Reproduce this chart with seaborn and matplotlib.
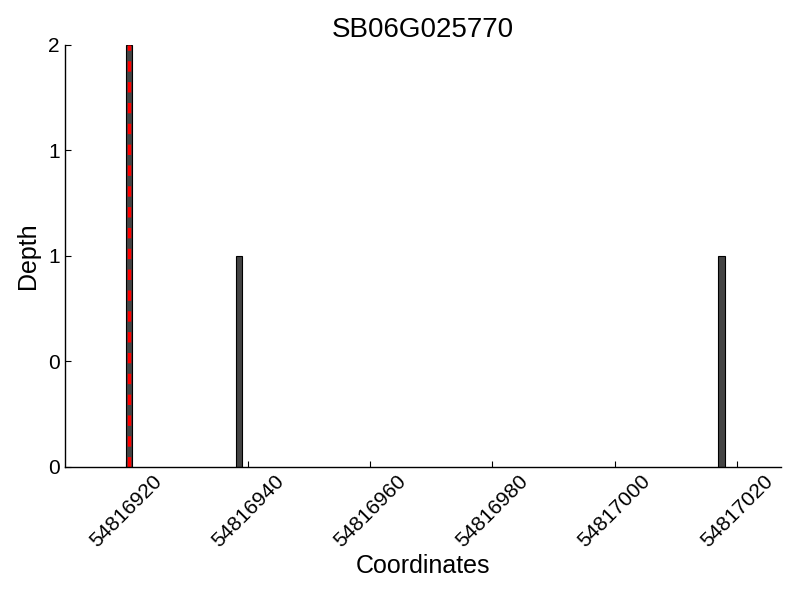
import matplotlib
matplotlib.use("Agg")
import matplotlib.pyplot as plt
import seaborn as sns
import pandas as pd
from matplotlib.ticker import FormatStrFormatter

positions = [54816920, 54816938, 54817017]
depths = [2, 1, 1]
highlight = 54816920.5
xticks = [54816920, 54816940, 54816960, 54816980, 54817000, 54817020]
yticks = [0, 0.5, 1, 1.5, 2]
title = "SB06G025770"

sns.set_theme(style="ticks")
plt.rcParams['font.family'] = ['Liberation Sans', 'DejaVu Sans']
plt.rcParams['text.color'] = 'black'
plt.rcParams['axes.labelcolor'] = 'black'

df = pd.DataFrame({"pos": positions, "depth": depths})

fig = plt.figure(figsize=(8, 6), dpi=100)
ax = fig.add_axes([0.081, 0.222, 0.895, 0.703])
ax.bar(df["pos"], df["depth"], width=1, align="edge", color="#444444",
       edgecolor="black", linewidth=0.8)
ax.axvline(highlight, color="red", linestyle="--", linewidth=2.5, dashes=(3, 3))
ax.set_xlim(54816910, 54817027.2)
ax.set_ylim(0, 2)
ax.set_xticks(xticks)
ax.set_yticks(yticks)
ax.ticklabel_format(useOffset=False, style="plain", axis="x")
ax.yaxis.set_major_formatter(FormatStrFormatter('%d'))
ax.tick_params(direction="in", labelsize=15, length=4, width=0.8, colors="black")
for lab in ax.get_xticklabels():
    lab.set_rotation(45)
    lab.set_ha("center")
sns.despine(ax=ax)
for s in ["left", "bottom"]:
    ax.spines[s].set_linewidth(1)
    ax.spines[s].set_color("black")
ax.set_xlabel("Coordinates", fontsize=18, color="black", labelpad=2)
ax.set_ylabel("Depth", fontsize=18, color="black", labelpad=6)
ax.set_title(title, fontsize=20, color="black")
fig.savefig("out.png", dpi=100)
